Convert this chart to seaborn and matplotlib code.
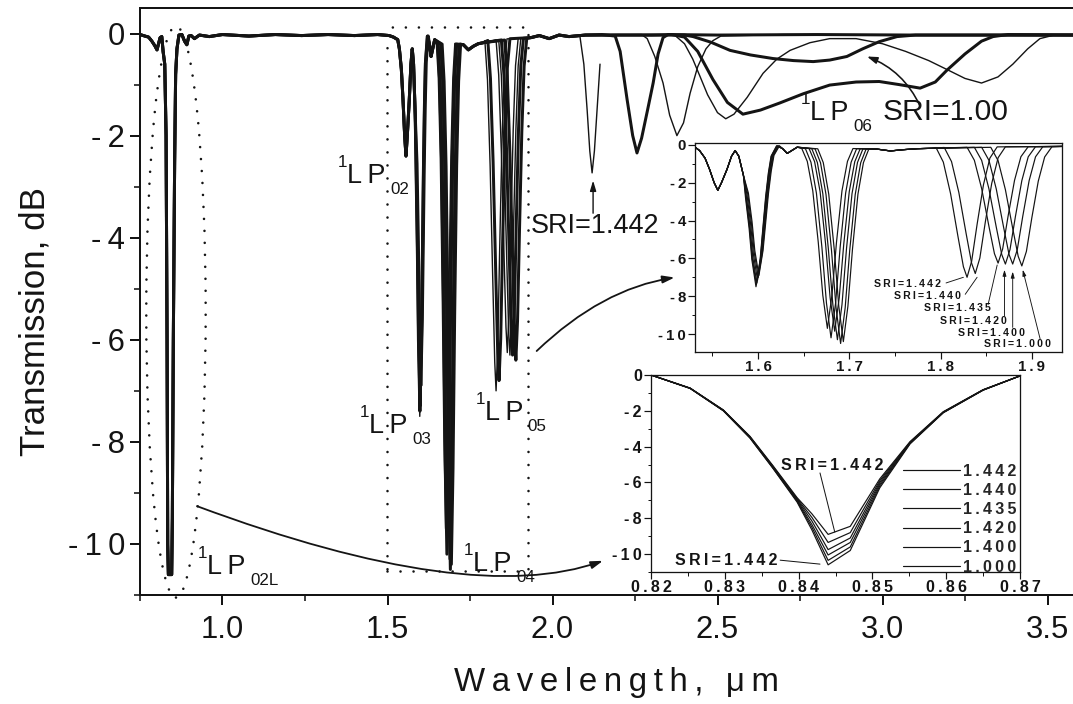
import matplotlib
matplotlib.use("Agg")
import matplotlib.pyplot as plt
import pandas as pd
import seaborn as sns
from matplotlib.patches import Ellipse, Rectangle, FancyArrowPatch
from matplotlib.path import Path
from matplotlib.ticker import MultipleLocator, FuncFormatter

# ---------------------------------------------------------------- data
# surrounding refractive index (SRI) of each computed spectrum
sri_labels = ["1.442", "1.440", "1.435", "1.420", "1.400", "1.000"]

# part of the spectrum shared by every SRI: LP02L band, LP02 notch, LP03 flank
common_wl = [0.750, 0.765, 0.776, 0.786, 0.795, 0.8015, 0.807, 0.811, 0.816, 0.820,
             0.825, 0.829, 0.832, 0.834, 0.836, 0.846, 0.848, 0.851, 0.855, 0.858,
             0.862, 0.868, 0.877, 0.885, 0.892, 0.898, 0.905, 0.915, 0.930, 0.960,
             1.000, 1.080, 1.160, 1.240, 1.320, 1.400, 1.470, 1.505, 1.518, 1.531,
             1.536, 1.542, 1.547, 1.552, 1.556, 1.560, 1.566, 1.571, 1.575, 1.579,
             1.584]
common_db = [-0.02, -0.05, -0.07, -0.15, -0.24, -0.32, -0.18, -0.08, -0.06, -0.35,
             -0.6, -2.0, -6.0, -10.0, -10.6, -10.6, -9.5, -6.0, -2.5, -0.8,
             -0.3, -0.03, -0.02, -0.15, -0.22, -0.05, -0.04, -0.1, -0.03, -0.06,
             -0.02, -0.05, -0.02, -0.04, -0.02, -0.04, -0.02, -0.04, -0.07, -0.12,
             -0.3, -0.7, -1.3, -2.0, -2.4, -2.0, -1.3, -0.6, -0.3, -0.6,
             -1.6]

# LP03 notch: centre / depth per SRI, shape as (offset, fraction of depth)
lp03_center = [1.5978, 1.5987, 1.5995, 1.6003, 1.6010, 1.5982]
lp03_depth = [-7.5, -7.3, -7.15, -7.0, -6.9, -7.4]
lp03_dx = [-0.0115, -0.0075, -0.0045, 0.0, 0.0045, 0.0075, 0.0105, 0.0135, 0.0165, 0.0225]
lp03_frac = [0.37, 0.59, 0.81, 1.0, 0.81, 0.59, 0.37, 0.2, 0.08, 0.007]

# small ripple between LP03 and LP04
ripple_wl = [1.627, 1.632, 1.637, 1.643]
ripple_db = [-0.2, -0.45, -0.3, -0.12]

# LP04 notch
lp04_center = [1.676, 1.680, 1.684, 1.687, 1.6905, 1.6935]
lp04_depth = [-9.7, -10.2, -9.85, -10.3, -10.5, -10.4]
lp04_dx = [-0.028, -0.022, -0.016, -0.010, -0.005, 0.0, 0.005, 0.010, 0.016, 0.022, 0.028]
lp04_frac = [0.02, 0.09, 0.25, 0.53, 0.82, 1.0, 0.82, 0.53, 0.25, 0.09, 0.02]

# shelf between LP04 and LP05
shelf_wl = [1.730, 1.745, 1.760, 1.775, 1.790]
shelf_db = [-0.22, -0.32, -0.25, -0.2, -0.18]

# LP05 notch
lp05_center = [1.829, 1.838, 1.863, 1.871, 1.879, 1.889]
lp05_depth = [-7.0, -6.8, -6.25, -6.3, -6.3, -6.4]
lp05_dx = [-0.034, -0.026, -0.018, -0.010, -0.004, 0.0, 0.005, 0.011, 0.018, 0.025, 0.033]
lp05_frac = [0.02, 0.13, 0.37, 0.69, 0.92, 1.0, 0.88, 0.6, 0.3, 0.1, 0.015]

# flat stretch after LP05
tail_wl = [1.935, 1.960, 1.990, 2.020, 2.050]
tail_db = [-0.08, -0.04, -0.1, -0.03, -0.06]

# LP06 band, one list per SRI
lp06_1442_wl = [2.083, 2.095, 2.105, 2.113, 2.120, 2.127, 2.136, 2.144]
lp06_1442_db = [-0.05, -0.6, -1.5, -2.3, -2.73, -2.3, -1.4, -0.6]
lp06_1440_wl = [2.10, 2.15, 2.19, 2.205, 2.226, 2.243, 2.256, 2.27, 2.288, 2.305, 2.32,
                2.335, 2.35, 2.5, 2.8, 3.1, 3.6]
lp06_1440_db = [-0.03, -0.02, -0.05, -0.35, -1.29, -2.0, -2.34, -2.05, -1.5, -0.97, -0.4,
                -0.08, -0.02, -0.03, -0.02, -0.03, -0.03]
lp06_1435_wl = [2.10, 2.2, 2.27, 2.287, 2.31, 2.335, 2.355, 2.377, 2.397, 2.417, 2.44,
                2.465, 2.486, 2.51, 2.7, 3.0, 3.6]
lp06_1435_db = [-0.03, -0.02, -0.02, -0.1, -0.45, -0.97, -1.6, -2.0, -1.75, -1.17, -0.65,
                -0.3, -0.14, -0.05, -0.02, -0.03, -0.02]
lp06_1420_wl = [2.10, 2.3, 2.37, 2.40, 2.425, 2.447, 2.47, 2.50, 2.525, 2.55, 2.59, 2.638,
                2.68, 2.72, 2.78, 2.84, 2.92, 3.0, 3.07, 3.14, 3.2, 3.25, 3.3, 3.35,
                3.395, 3.44, 3.477, 3.52, 3.6]
lp06_1420_db = [-0.03, -0.02, -0.03, -0.2, -0.5, -0.84, -1.2, -1.55, -1.67, -1.58, -1.25, -0.78,
                -0.5, -0.33, -0.18, -0.1, -0.1, -0.2, -0.35, -0.53, -0.72, -0.88, -0.97, -0.85,
                -0.6, -0.3, -0.1, -0.03, -0.02]
lp06_1400_wl = [2.10, 2.3, 2.36, 2.40, 2.44, 2.486, 2.53, 2.577, 2.63, 2.689, 2.76, 2.84,
                2.92, 2.99, 3.05, 3.114, 3.16, 3.195, 3.25, 3.3, 3.335, 3.38, 3.6]
lp06_1400_db = [-0.03, -0.03, -0.02, -0.07, -0.35, -0.9, -1.35, -1.58, -1.5, -1.36, -1.18, -1.01,
                -0.95, -0.94, -1.0, -1.07, -0.95, -0.72, -0.4, -0.15, -0.06, -0.02, -0.03]
lp06_1000_wl = [2.10, 2.3, 2.40, 2.426, 2.48, 2.538, 2.6, 2.668, 2.73, 2.79, 2.84, 2.892,
                2.94, 2.99, 3.044, 3.1, 3.6]
lp06_1000_db = [-0.03, -0.03, -0.03, -0.06, -0.17, -0.33, -0.42, -0.49, -0.53, -0.55, -0.52,
                -0.45, -0.3, -0.16, -0.06, -0.03, -0.03]
lp06_wl = [lp06_1442_wl, lp06_1440_wl, lp06_1435_wl, lp06_1420_wl, lp06_1400_wl, lp06_1000_wl]
lp06_db = [lp06_1442_db, lp06_1440_db, lp06_1435_db, lp06_1420_db, lp06_1400_db, lp06_1000_db]

# LP02L notch, fine sampling
fine_wl = [0.8200, 0.8253, 0.8298, 0.8334, 0.8365, 0.8398, 0.8418, 0.8440, 0.8470,
           0.8510, 0.8551, 0.8596, 0.8650, 0.8700]
fine_1442 = [0, -0.73, -1.95, -3.42, -5.05, -6.85, -7.75, -8.9, -8.45, -5.8, -3.72, -2.05, -0.82, -0.05]
fine_1440 = [0, -0.73, -1.96, -3.44, -5.08, -6.9, -7.95, -9.35, -8.8, -5.9, -3.75, -2.07, -0.83, -0.05]
fine_1435 = [0, -0.74, -1.97, -3.46, -5.12, -6.95, -8.15, -9.75, -9.1, -6.0, -3.78, -2.08, -0.83, -0.05]
fine_1420 = [0, -0.74, -1.98, -3.48, -5.15, -7.0, -8.35, -10.05, -9.35, -6.1, -3.8, -2.09, -0.84, -0.05]
fine_1400 = [0, -0.75, -1.99, -3.5, -5.18, -7.05, -8.5, -10.35, -9.6, -6.2, -3.82, -2.1, -0.84, -0.05]
fine_1000 = [0, -0.75, -2.0, -3.52, -5.2, -7.1, -8.65, -10.6, -9.8, -6.3, -3.85, -2.11, -0.85, -0.05]
fine_db = [fine_1442, fine_1440, fine_1435, fine_1420, fine_1400, fine_1000]

# ---------------------------------------------------------------- spectra table
rows = []
for i, s in enumerate(sri_labels):
    wl = list(common_wl)
    db = list(common_db)
    wl += [lp03_center[i] + d for d in lp03_dx]
    db += [lp03_depth[i] * f for f in lp03_frac]
    wl += ripple_wl
    db += ripple_db
    wl += [lp04_center[i] + d for d in lp04_dx]
    db += [lp04_depth[i] * f for f in lp04_frac]
    lo, hi = lp04_center[i] + lp04_dx[-1], lp05_center[i] + lp05_dx[0]
    for x, y in zip(shelf_wl, shelf_db):
        if lo < x < hi:
            wl.append(x)
            db.append(y)
    wl += [lp05_center[i] + d for d in lp05_dx]
    db += [lp05_depth[i] * f for f in lp05_frac]
    for x, y in zip(tail_wl, tail_db):
        if x > wl[-1]:
            wl.append(x)
            db.append(y)
    wl += lp06_wl[i]
    db += lp06_db[i]
    rows += [(s, x, y) for x, y in zip(wl, db)]
spectra = pd.DataFrame(rows, columns=["sri", "wavelength", "transmission"])

fine = pd.DataFrame([(s, x, y) for s, ys in zip(sri_labels, fine_db) for x, y in zip(fine_wl, ys)],
                    columns=["sri", "wavelength", "transmission"])

# ---------------------------------------------------------------- style
sns.set_theme(style="ticks")
plt.rcParams["font.family"] = ["Liberation Sans", "DejaVu Sans"]
plt.rcParams["axes.unicode_minus"] = False
INK = "#141414"
THIN = "\u2009"


def spaced(text):
    return THIN.join(text)


W, H = 1073, 704
fig = plt.figure(figsize=(W / 72, H / 72), dpi=72)


def px_rect(left, top, right, bottom):
    return [left / W, 1 - bottom / H, (right - left) / W, (bottom - top) / H]


# ---------------------------------------------------------------- main axes
ax = fig.add_axes(px_rect(140, 8, 1080.5, 595))
main_lw = {"1.442": 1.4, "1.440": 3.0, "1.435": 1.4, "1.420": 1.4, "1.400": 3.0, "1.000": 3.0}
for s in sorted(sri_labels, key=lambda k: -main_lw[k]):
    sns.lineplot(data=spectra[spectra.sri == s], x="wavelength", y="transmission", ax=ax,
                 color=INK, lw=main_lw[s], sort=False, estimator=None, legend=False)
ax.set_xlim(0.75, 3.6)
ax.set_ylim(-11, 0.5)
ax.xaxis.set_major_locator(MultipleLocator(0.5))
ax.xaxis.set_minor_locator(MultipleLocator(0.25))
ax.yaxis.set_major_locator(MultipleLocator(2))
ax.yaxis.set_minor_locator(MultipleLocator(1))
ax.xaxis.set_major_formatter(FuncFormatter(lambda v, p: f"{v:.1f}"))
ax.yaxis.set_major_formatter(FuncFormatter(lambda v, p: spaced(str(int(round(v))))))
ax.tick_params(which="major", direction="out", length=10, width=2, labelsize=31, pad=5,
               colors=INK)
ax.tick_params(which="minor", direction="out", length=6, width=1.6, colors=INK)
ax.tick_params(axis="x", which="major", pad=10)
for sp in ax.spines.values():
    sp.set_linewidth(2)
    sp.set_color(INK)
ax.set_xlabel(spaced("Wavelength, \u03bcm"), fontsize=33, va="center", color=INK)
ax.set_ylabel("Transmission, dB", fontsize=35, va="center", color=INK)
ax.xaxis.set_label_coords((616 - 140) / 940.5, (595 - 683) / 587)
ax.yaxis.set_label_coords((35 - 140) / 940.5, (595 - 322) / 587)

# dotted outlines around the LP02L band and the LP02-LP05 group
dots = dict(fill=False, ec=INK, lw=2.6, capstyle="round", clip_on=False)
ax.add_patch(Ellipse((0.859, -5.455), 0.18, 11.19, linestyle=(0, (0.01, 4.6)), **dots))
ax.add_patch(Rectangle((1.498, -10.53), 0.428, 10.65, linestyle=(0, (0.01, 5.0)), **dots))


def mode_label(x, y, sub):
    ax.text(x, y, "L" + THIN + "P", fontsize=27, ha="left", va="baseline", color=INK)
    ax.annotate("1", (x, y), xytext=(-9, 16), textcoords="offset points", fontsize=17,
                ha="left", va="baseline", color=INK)
    ax.annotate(sub, (x, y), xytext=(43, -11), textcoords="offset points", fontsize=17,
                ha="left", va="baseline", color=INK)


mode_label(1.377, -2.92, "02")
mode_label(1.444, -7.82, "03")
mode_label(1.795, -7.58, "05")
mode_label(0.953, -10.58, "02L")
mode_label(1.759, -10.53, "04")
mode_label(2.780, -1.70, "06")
ax.text(3.0015, -1.70, "SRI=1.00", fontsize=30, ha="left", va="baseline", color=INK)
ax.text(2.129, -3.90, "SRI=1.442", fontsize=27, ha="center", va="baseline", color=INK)
ax.annotate("", xy=(2.123, -2.88), xytext=(2.123, -3.52),
            arrowprops=dict(arrowstyle="-|>,head_length=0.6,head_width=0.18", lw=1.4,
                            color=INK, mutation_scale=14, shrinkA=0, shrinkB=0))
ax.annotate("", xy=(2.953, -0.45), xytext=(3.114, -1.42),
            arrowprops=dict(arrowstyle="-|>,head_length=0.6,head_width=0.2", lw=1.6,
                            color=INK, mutation_scale=14, shrinkA=0, shrinkB=0,
                            connectionstyle="arc3,rad=0.2"))

# curved pointers from the main plot to the two close-ups
head = "-|>,head_length=0.7,head_width=0.22"
p_low = Path([(0.923, -9.26), (1.750, -11.25), (2.153, -10.33)],
             [Path.MOVETO, Path.CURVE3, Path.CURVE3])
ax.add_patch(FancyArrowPatch(path=p_low, arrowstyle=head, mutation_scale=14, lw=1.8,
                             color=INK, clip_on=False))
p_up = Path([(1.952, -6.22), (2.149, -5.0), (2.370, -4.78)],
            [Path.MOVETO, Path.CURVE3, Path.CURVE3])
ax.add_patch(FancyArrowPatch(path=p_up, arrowstyle=head, mutation_scale=14, lw=1.8,
                             color=INK, clip_on=False))

# ---------------------------------------------------------------- LP02-LP05 close-up
ax1 = fig.add_axes(px_rect(695, 143, 1062, 352))
ax1.set_facecolor("white")
for s in sri_labels:
    sns.lineplot(data=spectra[spectra.sri == s], x="wavelength", y="transmission", ax=ax1,
                 color=INK, lw=1.2, sort=False, estimator=None, legend=False)
ax1.set_xlim(1.531, 1.933)
ax1.set_ylim(-10.95, 0.1)
ax1.xaxis.set_major_locator(MultipleLocator(0.1))
ax1.xaxis.set_minor_locator(MultipleLocator(0.05))
ax1.yaxis.set_major_locator(MultipleLocator(2))
ax1.yaxis.set_minor_locator(MultipleLocator(1))
ax1.xaxis.set_major_formatter(FuncFormatter(lambda v, p: spaced(f"{v:.1f}")))
ax1.yaxis.set_major_formatter(FuncFormatter(lambda v, p: spaced(str(int(round(v))))))

ins_text = dict(fontsize=10.5, fontweight="bold", color=INK, ha="center", va="center")
sri_notes = [("1.442", (1.764, -7.35), (1.806, -7.30), (1.825, -7.00), False),
             ("1.440", (1.786, -8.00), (1.827, -7.90), (1.840, -7.00), False),
             ("1.435", (1.818, -8.65), (1.852, -8.45), (1.862, -6.35), False),
             ("1.420", (1.836, -9.30), (1.870, -9.05), (1.870, -6.60), True),
             ("1.400", (1.856, -9.92), (1.879, -9.65), (1.879, -6.70), True),
             ("1.000", (1.884, -10.55), (1.909, -10.25), (1.890, -6.60), True)]
for val, txt, start, tip, arrow in sri_notes:
    ax1.text(*txt, spaced("SRI=" + val), **ins_text)
    style = "-|>,head_length=0.5,head_width=0.15" if arrow else "-"
    ax1.annotate("", xy=tip, xytext=start,
                 arrowprops=dict(arrowstyle=style, lw=0.9, color=INK, mutation_scale=10,
                                 shrinkA=0, shrinkB=0))

# ---------------------------------------------------------------- LP02L close-up
ax2 = fig.add_axes(px_rect(651, 375, 1020, 572))
ax2.set_facecolor("white")
for s in sri_labels:
    sns.lineplot(data=fine[fine.sri == s], x="wavelength", y="transmission", ax=ax2,
                 color=INK, lw=1.2, sort=False, estimator=None, label=spaced(s))
ax2.set_xlim(0.82, 0.87)
ax2.set_ylim(-11, 0)
ax2.xaxis.set_major_locator(MultipleLocator(0.01))
ax2.xaxis.set_minor_locator(MultipleLocator(0.005))
ax2.yaxis.set_major_locator(MultipleLocator(2))
ax2.yaxis.set_minor_locator(MultipleLocator(1))
ax2.xaxis.set_major_formatter(FuncFormatter(lambda v, p: spaced(f"{v:.2f}")))
ax2.yaxis.set_major_formatter(FuncFormatter(lambda v, p: spaced(str(int(round(v))))))
ax2.legend(loc="upper left", bbox_to_anchor=(0.66, 0.59), frameon=False, borderpad=0,
           handlelength=3.6, handletextpad=0.15, labelspacing=0.26,
           prop=dict(weight="bold", size=16))
ax2.text(0.8445, -5.08, spaced("SRI=1.442"), fontsize=16, fontweight="bold", color=INK,
         ha="center", va="center")
ax2.text(0.8302, -10.34, spaced("SRI=1.442"), fontsize=16, fontweight="bold", color=INK,
         ha="center", va="center")
for start, tip in [((0.8429, -5.47), (0.8449, -8.77)), ((0.8375, -10.34), (0.8429, -10.56))]:
    ax2.annotate("", xy=tip, xytext=start,
                 arrowprops=dict(arrowstyle="-", lw=1.0, color=INK, shrinkA=0, shrinkB=0))

for a, size in [(ax1, 15), (ax2, 16)]:
    a.set_xlabel("")
    a.set_ylabel("")
    a.tick_params(which="major", direction="out", length=7, width=1.2, labelsize=size,
                  pad=2, colors=INK)
    a.tick_params(which="minor", direction="out", length=3.5, width=1.0, colors=INK)
    a.tick_params(axis="x", which="major", pad=1)
    for lab in a.get_xticklabels() + a.get_yticklabels():
        lab.set_fontweight("bold")
    for sp in a.spines.values():
        sp.set_linewidth(1.3)
        sp.set_color(INK)

fig.savefig("out.png", dpi=72, facecolor="white")
